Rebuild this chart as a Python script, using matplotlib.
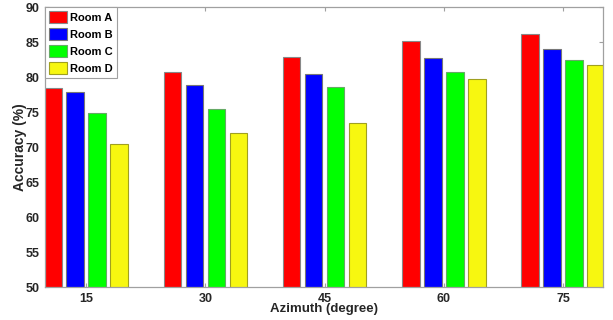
import matplotlib.pyplot as plt
import numpy as np

plt.rcParams['font.family'] = ['Liberation Sans', 'DejaVu Sans']

azimuth = ['15', '30', '45', '60', '75']
rooms = ['Room A', 'Room B', 'Room C', 'Room D']
room_a = [78.5, 80.7, 82.9, 85.2, 86.2]
room_b = [77.8, 78.9, 80.5, 82.7, 84.0]
room_c = [74.9, 75.4, 78.6, 80.7, 82.5]
room_d = [70.5, 72.0, 73.5, 79.7, 81.7]
colors = ['#ff0000', '#0000ff', '#00ff00', '#f7f710']
edges = ['#888888', '#777777', '#66aa66', '#a0a020']

fig = plt.figure(figsize=(6.13, 3.2), dpi=100)
ax = fig.add_axes([0.0734, 0.1031, 0.9103, 0.8749])

x = np.arange(1, len(azimuth) + 1)
step = 0.184
width = 0.147
for i, (vals, c, ec, lbl) in enumerate(zip([room_a, room_b, room_c, room_d], colors, edges, rooms)):
    ax.bar(x + (i - 1.5) * step, vals, width, color=c, edgecolor=ec,
           linewidth=0.8, label=lbl, zorder=2)

ax.set_xlim(0.655, 5.335)
ax.set_ylim(50, 90)
ax.set_xticks(x)
ax.set_xticklabels(azimuth)
ax.set_yticks(np.arange(50, 91, 5))

for s in ax.spines.values():
    s.set_color('#a0a0a0')
    s.set_linewidth(0.9)
    s.set_zorder(3)
ax.tick_params(direction='in', top=True, right=True, length=3, width=0.8,
               color='#a0a0a0', labelsize=9, labelcolor='#262626', pad=4)
for t in ax.get_xticklabels() + ax.get_yticklabels():
    t.set_fontweight('bold')

ax.set_xlabel('Azimuth (degree)', fontsize=9.5, fontweight='bold', labelpad=-1, color='#262626')
ax.set_ylabel('Accuracy (%)', fontsize=10, fontweight='bold', labelpad=-1, color='#262626')

leg = ax.legend(loc='upper left', prop={'weight': 'bold', 'size': 8},
                handlelength=1.6, handleheight=1.3, handletextpad=0.3,
                labelspacing=0.45, borderpad=0.35, borderaxespad=0.0,
                fancybox=False, framealpha=1)
leg.get_frame().set_edgecolor('#a0a0a0')
leg.get_frame().set_linewidth(0.8)

fig.savefig('out.png', dpi=100, facecolor='white')
